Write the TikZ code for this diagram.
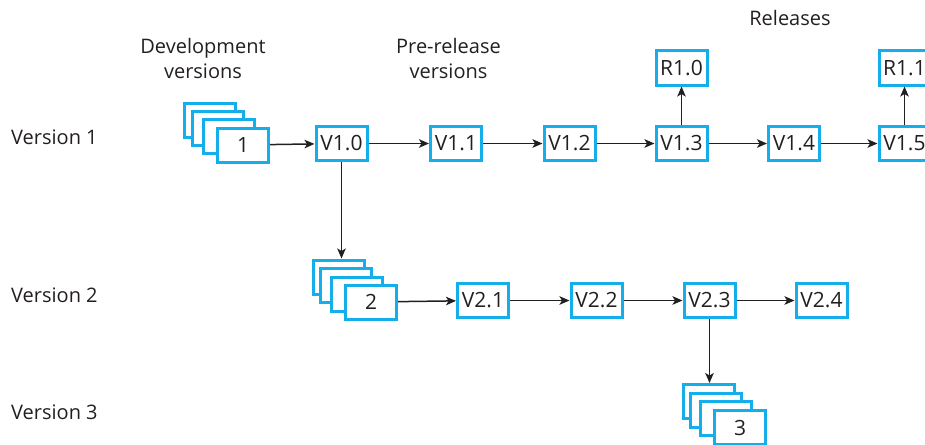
\documentclass[tikz,border=0pt]{standalone}
\usepackage{fontspec}
\setmainfont{Open Sans}
\usetikzlibrary{arrows.meta}
\definecolor{boxblue}{RGB}{20,174,235}
\definecolor{txt}{RGB}{35,31,32}
\tikzset{
  vbox/.style={draw=boxblue, line width=3pt, fill=white, minimum width=51pt, minimum height=34pt, inner sep=0pt, text=txt, font=\fontsize{21}{24}\selectfont},
  sbox/.style={vbox, anchor=north west},
  conn/.style={line width=1.5pt, draw=txt, -{Stealth[length=10pt,width=8.5pt,inset=2.5pt]}},
  lbl/.style={text=txt, font=\fontsize{20}{25}\selectfont, align=center, inner sep=0pt},
}
\begin{document}
\begin{tikzpicture}[x=1pt,y=-1pt]
\useasboundingbox (0,0) rectangle (925,444);
% labels
\node[lbl, anchor=base west] (lv1) at (11,144) {Version 1};
\node[lbl, anchor=base west] (lv2) at (11,302) {Version 2};
\node[lbl, anchor=base west] (lv3) at (11,419) {Version 3};
\node[lbl] (ldev) at (203,58) {Development\\versions};
\node[lbl] (lpre) at (448.5,58) {Pre-release\\versions};
\node[lbl] (lrel) at (790,18) {Releases};
% stack 1
\node[sbox] (s1a) at (183,101.5) {};
\node[sbox] (s1b) at (191,109.5) {};
\node[sbox] (s1c) at (202,117.5) {};
\node[sbox] (s1) at (216,126.5) {1};
% row 1
\node[vbox] (V10) at (341.5,143.5) {V1.0};
\node[vbox] (V11) at (456,143.5) {V1.1};
\node[vbox] (V12) at (569.5,143.5) {V1.2};
\node[vbox] (V13) at (681.5,143.5) {V1.3};
\node[vbox] (V14) at (794,143.5) {V1.4};
\node[vbox] (V15) at (904.5,143.5) {V1.5};
\node[vbox] (R10) at (681.5,68) {R1.0};
\node[vbox] (R11) at (904.5,68) {R1.1};
% stack 2
\node[sbox] (s2a) at (312,258.5) {};
\node[sbox] (s2b) at (319,266.5) {};
\node[sbox] (s2c) at (330,275.5) {};
\node[sbox] (s2) at (344,283.5) {2};
% row 2
\node[vbox] (V21) at (483,300.5) {V2.1};
\node[vbox] (V22) at (596.5,300.5) {V2.2};
\node[vbox] (V23) at (709.5,300.5) {V2.3};
\node[vbox] (V24) at (821.5,300.5) {V2.4};
% stack 3
\node[sbox] (s3a) at (682,383) {};
\node[sbox] (s3b) at (689,392) {};
\node[sbox] (s3c) at (699,400) {};
\node[sbox] (s3) at (713,409) {3};
% connectors
\draw[conn] (s1) -- (V10);
\draw[conn] (V10) -- (V11);
\draw[conn] (V11) -- (V12);
\draw[conn] (V12) -- (V13);
\draw[conn] (V13) -- (V14);
\draw[conn] (V14) -- (V15);
\draw[conn] (V13) -- (R10);
\draw[conn] (V15) -- (R11);
\draw[conn] (V10.south) -- (V10.south |- s2a.north);
\draw[conn] (s2) -- (V21);
\draw[conn] (V21) -- (V22);
\draw[conn] (V22) -- (V23);
\draw[conn] (V23) -- (V24);
\draw[conn] (V23.south) -- (V23.south |- s3a.north);
\end{tikzpicture}
\end{document}
